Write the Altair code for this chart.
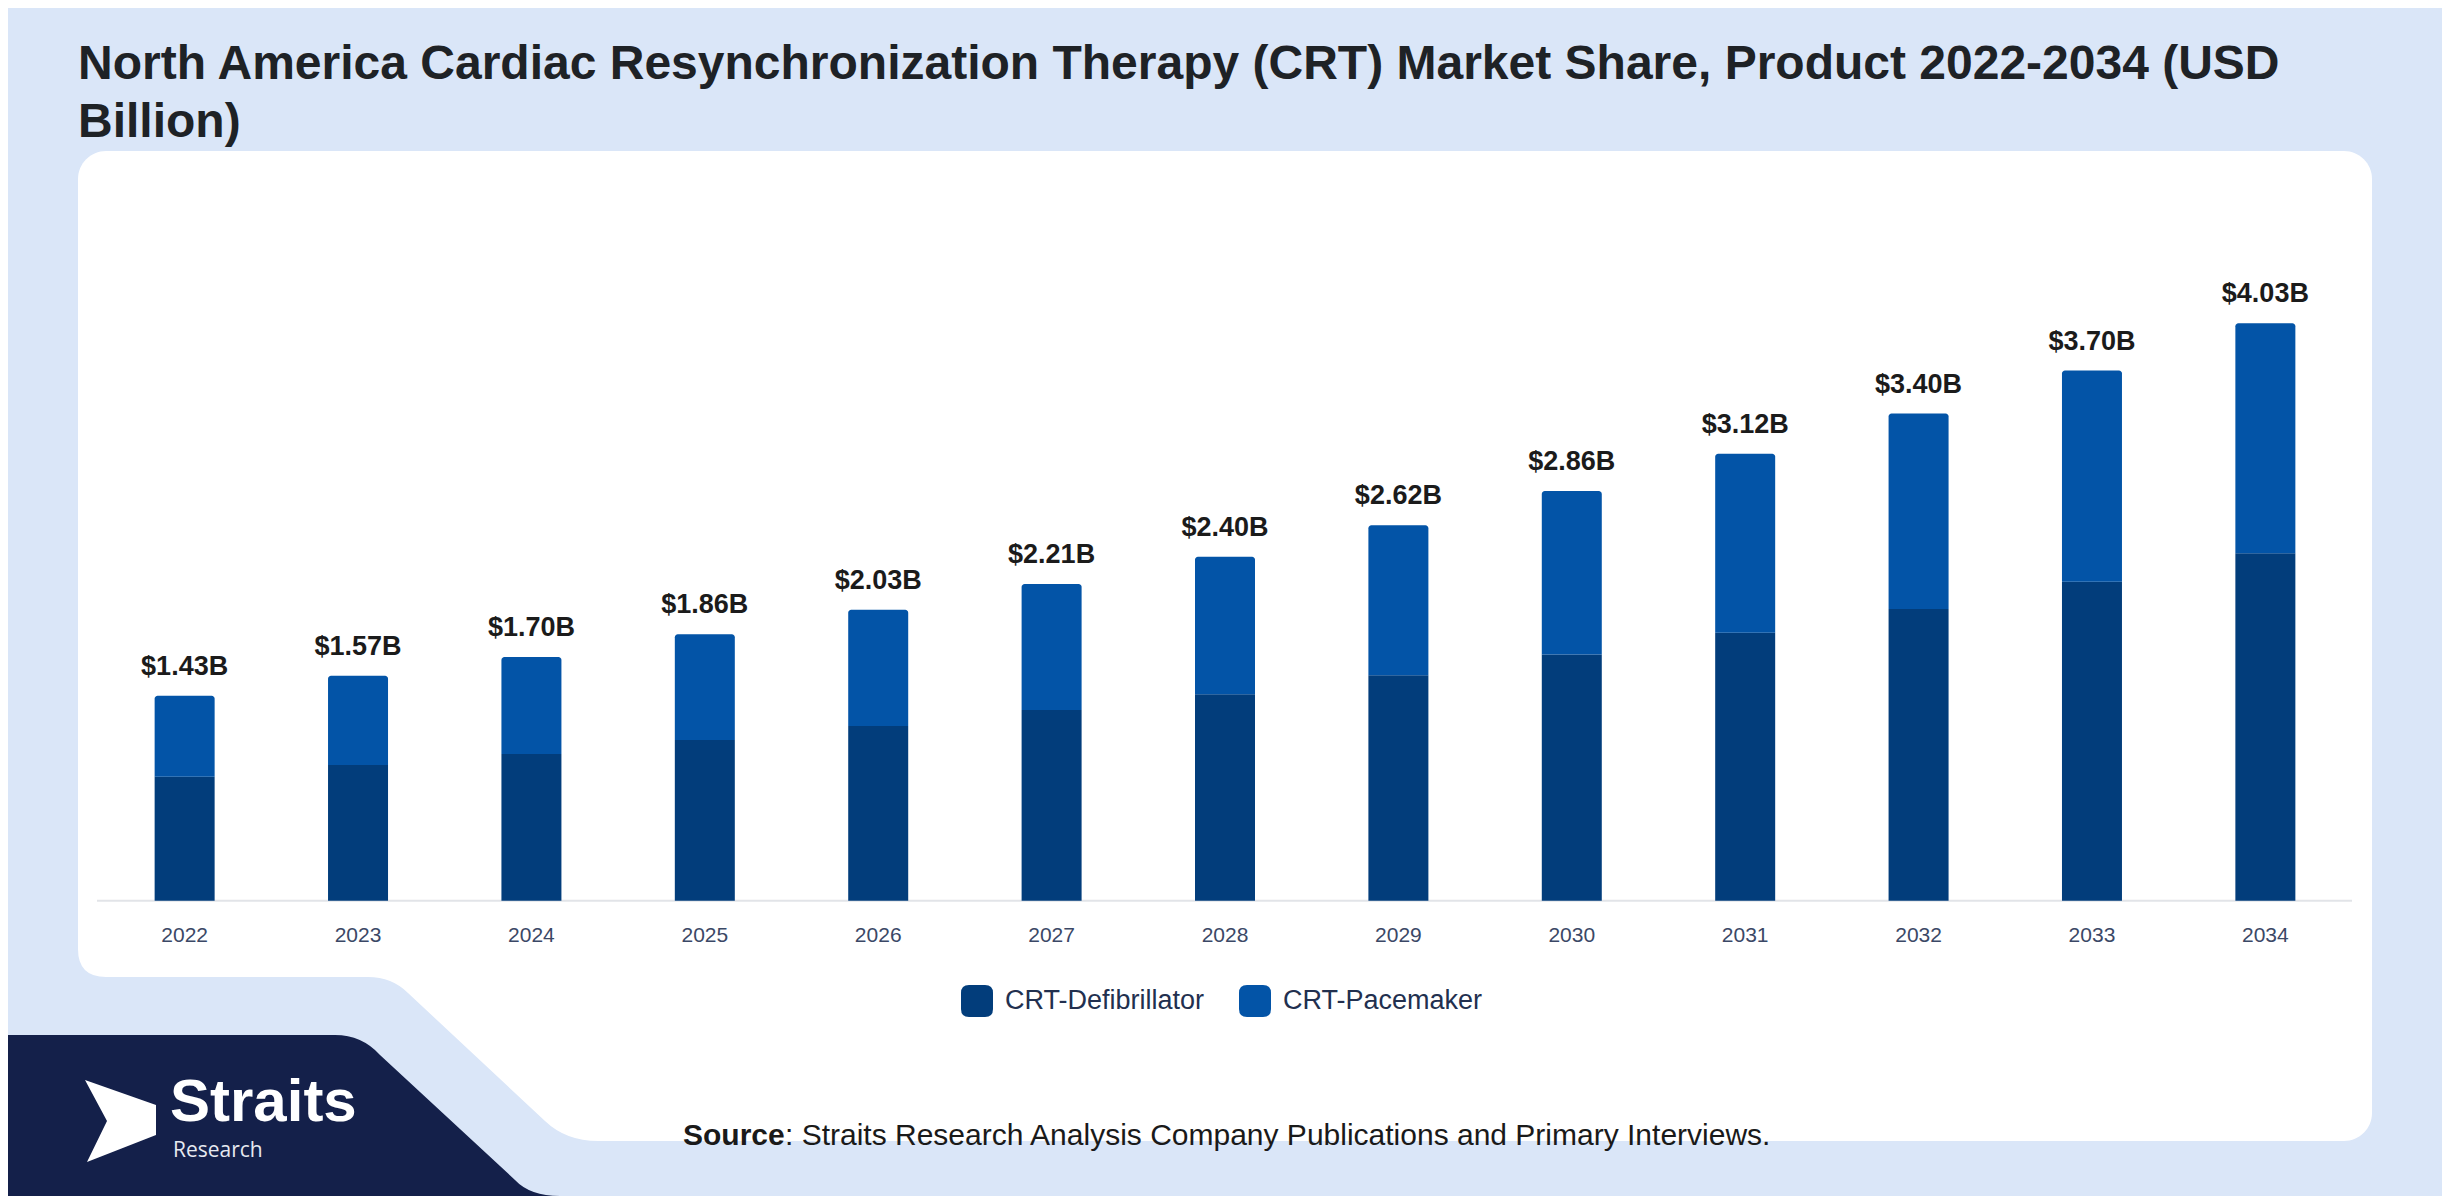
import altair as alt
import pandas as pd

# ---------------- data ----------------
years = ["2022", "2023", "2024", "2025", "2026", "2027", "2028",
         "2029", "2030", "2031", "2032", "2033", "2034"]
defibrillator = [0.865, 0.947, 1.024, 1.121, 1.219, 1.331, 1.440,
                 1.573, 1.719, 1.870, 2.036, 2.226, 2.424]
pacemaker = [0.565, 0.623, 0.676, 0.739, 0.811, 0.879, 0.960,
             1.047, 1.141, 1.250, 1.364, 1.474, 1.606]
totals = [1.43, 1.57, 1.70, 1.86, 2.03, 2.21, 2.40, 2.62, 2.86, 3.12, 3.40, 3.70, 4.03]
total_labels = ["$1.43B", "$1.57B", "$1.70B", "$1.86B", "$2.03B", "$2.21B", "$2.40B",
                "$2.62B", "$2.86B", "$3.12B", "$3.40B", "$3.70B", "$4.03B"]
series = ["CRT-Defibrillator", "CRT-Pacemaker"]
colors = ["#023d7b", "#0354a7"]

title_lines = ["North America Cardiac Resynchronization Therapy (CRT) Market Share, Product 2022-2034 (USD",
               "Billion)"]
source_bold = "Source"
source_rest = ": Straits Research Analysis Company Publications and Primary Interviews."

# ---------------- tables ----------------
d_rows = [{"year": y, "series": series[0], "start": 0.0, "end": d}
          for y, d in zip(years, defibrillator)]
p_rows = [{"year": y, "series": series[1], "start": d, "end": d + p}
          for y, d, p in zip(years, defibrillator, pacemaker)]
df_d = pd.DataFrame(d_rows)
df_p = pd.DataFrame(p_rows)
df_t = pd.DataFrame({"year": years, "total": totals, "label": total_labels})
one = pd.DataFrame({"k": [0]})
zero = pd.DataFrame({"base": [0.0]})

W, H = 2294, 990
FONT = "Liberation Sans"

y_scale = alt.Scale(domain=[-1.677, 5.232], nice=False, zero=False)
color_scale = alt.Scale(domain=series, range=colors)

rounded_sq = ("M-0.5,-1 L0.5,-1 Q1,-1 1,-0.5 L1,0.5 Q1,1 0.5,1 L-0.5,1 "
              "Q-1,1 -1,0.5 L-1,-0.5 Q-1,-1 -0.5,-1 Z")

legend = alt.Legend(orient="none", legendX=883, legendY=834, direction="horizontal",
                    title=None, symbolType=rounded_sq, symbolSize=1024,
                    labelFontSize=27, labelFont=FONT, labelColor="#22304f",
                    labelLimit=0, columnPadding=34, labelOffset=12, padding=0,
                    symbolStrokeWidth=0, symbolOpacity=1)

x_enc = alt.X("year:N", sort=years,
              scale=alt.Scale(paddingInner=0.654, paddingOuter=0.442),
              axis=alt.Axis(title=None, labelAngle=0, ticks=False, domain=False,
                            labelFontSize=21, labelFont=FONT, labelColor="#3b4866",
                            labelBaseline="middle", labelPadding=35, offset=-240.3,
                            grid=False))
color_enc = alt.Color("series:N", scale=color_scale, legend=legend)

# ---------------- decorations ----------------
cutout_path = ("M-18,798 L0,798 Q0,826 28,826 L290,826 Q314,826 330,842 "
               "L467,970 Q488,990 520,990 L520,1009 L-18,1009 Z")
navy_path = ("M-70,884 L257,884 Q284,884 302,904 L437,1029 Q452,1045 482,1045 "
             "L482,1050 L-70,1050 Z")
arrow_path = "M7,929 L78,954 L78,984 L9,1011 L29,970 Z"

def deco(path, fill):
    return alt.Chart(one).mark_point(shape=path, size=4, filled=True, fill=fill,
                                     strokeWidth=0, opacity=1).encode(
        x=alt.value(0), y=alt.value(0))

cutout = deco(cutout_path, "#dae6f8")
navy = deco(navy_path, "#14204a")
arrow = deco(arrow_path, "#ffffff")

logo1 = alt.Chart(one).mark_text(font=FONT, fontSize=60, fontWeight="bold",
                                 color="#ffffff", align="left", baseline="alphabetic").encode(
    x=alt.value(92), y=alt.value(970), text=alt.value("Straits"))
logo2 = alt.Chart(one).mark_text(font="Open Sans", fontSize=21, color="#e6e9f0",
                                 align="left", baseline="alphabetic").encode(
    x=alt.value(95), y=alt.value(1006), text=alt.value("Research"))

# ---------------- chart layers ----------------
baseline_rule = alt.Chart(zero).mark_rule(color="#e2e4e8", strokeWidth=2).encode(
    x=alt.value(19), x2=alt.value(2274), y=alt.Y("base:Q", scale=y_scale, axis=None))

bars_d = alt.Chart(df_d).mark_bar().encode(
    x=x_enc,
    y=alt.Y("end:Q", scale=y_scale, axis=None),
    y2="start:Q",
    color=color_enc)

bars_p = alt.Chart(df_p).mark_bar(cornerRadiusTopLeft=3, cornerRadiusTopRight=3).encode(
    x=x_enc,
    y=alt.Y("end:Q", scale=y_scale, axis=None),
    y2="start:Q",
    color=color_enc)

labels = alt.Chart(df_t).mark_text(font=FONT, fontSize=27, fontWeight="bold",
                                   color="#1b1b1b", dy=-21, baseline="alphabetic").encode(
    x=x_enc,
    y=alt.Y("total:Q", scale=y_scale, axis=None),
    text="label:N")

src1 = alt.Chart(one).mark_text(font=FONT, fontSize=30, fontWeight="bold", color="#1a1a1a",
                                align="left", baseline="middle").encode(
    x=alt.value(605), y=alt.value(985), text=alt.value(source_bold))
src2 = alt.Chart(one).mark_text(font=FONT, fontSize=30, color="#1a1a1a",
                                align="left", baseline="middle").encode(
    x=alt.value(707), y=alt.value(985), text=alt.value(source_rest))

chart = alt.layer(
    cutout, navy, arrow, logo1, logo2,
    baseline_rule, bars_d, bars_p, labels, src1, src2
).properties(
    width=W, height=H,
    title=alt.TitleParams(text=title_lines, anchor="start", frame="group", font=FONT,
                          fontSize=48, fontWeight="bold", color="#1e2226",
                          lineHeight=58, offset=4),
    autosize=alt.AutoSizeParams(type="none"),
    padding={"left": 70, "top": 143, "right": 70, "bottom": 55},
    background="#dae6f8",
).configure_view(
    fill="#ffffff", stroke=None, cornerRadius=28
)

chart.save("out.html", embed_options={"renderer": "svg", "actions": False})
